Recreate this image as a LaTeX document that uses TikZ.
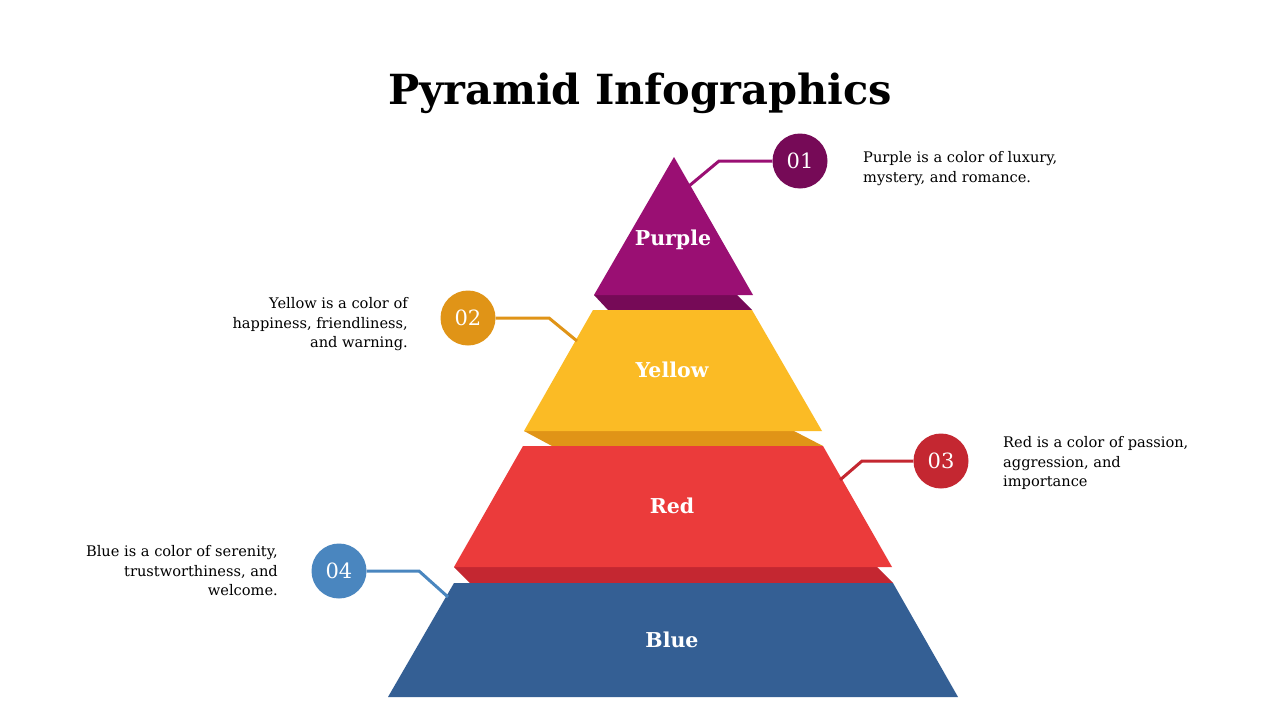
\documentclass[tikz,border=0pt]{standalone}
\usepackage{fontspec}
\setmainfont{DejaVu Serif}
\definecolor{purp}{HTML}{9A0F73}
\definecolor{purpd}{HTML}{760A57}
\definecolor{yel}{HTML}{FBBB25}
\definecolor{yeld}{HTML}{E09417}
\definecolor{rd}{HTML}{EB3B3B}
\definecolor{rdd}{HTML}{C42731}
\definecolor{blu}{HTML}{345F94}
\definecolor{blul}{HTML}{4A86BF}
\begin{document}
\begin{tikzpicture}[x=1pt,y=-1pt,
  numc/.style={circle, minimum size=55pt, inner sep=0pt, text=white, font=\fontsize{21}{21}\selectfont},
  desc/.style={font=\fontsize{14.6}{19.6}\selectfont, inner sep=0pt},
  layerlabel/.style={text=white, font=\bfseries\fontsize{20.5}{20.5}\selectfont},
  conn/.style={line width=3pt, line join=miter}]
\useasboundingbox[fill=white] (0,0) rectangle (1280,720);
% title
\node[font=\bfseries\fontsize{41.5}{41.5}\selectfont] (title) at (640,93) {Pyramid Infographics};
% pyramid layers
\fill[purpd] (594,295) -- (737,295) -- (752,310) -- (608,310) -- cycle;
\fill[purp] (674,157) -- (753,295) -- (594,295) -- cycle;
\fill[yeld] (524,431) -- (794,431) -- (823,446) -- (552,446) -- cycle;
\fill[yel] (593,310) -- (752,310) -- (822,431) -- (524,431) -- cycle;
\fill[rdd] (454,567) -- (877,567) -- (893,583) -- (470,583) -- cycle;
\fill[rd] (523,446) -- (823,446) -- (892,567) -- (454,567) -- cycle;
\fill[blu] (454,583) -- (893,583) -- (958,697) -- (388,697) -- cycle;
\node[layerlabel] (lp) at (673,240) {Purple};
\node[layerlabel] (ly) at (672,370) {Yellow};
\node[layerlabel] (lr) at (672,506) {Red};
\node[layerlabel] (lb) at (672,640) {Blue};
% number circles
\node[numc, fill=purpd] (c1) at (800,161) {01};
\node[numc, fill=yeld] (c2) at (468,318) {02};
\node[numc, fill=rdd] (c3) at (941,461) {03};
\node[numc, fill=blul] (c4) at (339,571) {04};
% connector anchor points on the pyramid
\coordinate (p1) at (689,186);
\coordinate (p2) at (577,341);
\coordinate (p3) at (840,480);
\coordinate (p4) at (448,597);
\draw[conn, purp] (p1) -- (719,161) -- (c1.west);
\draw[conn, yeld] (p2) -- (549,318) -- (c2.east);
\draw[conn, rdd] (p3) -- (862,461) -- (c3.west);
\draw[conn, blul] (p4) -- (419,571) -- (c4.east);
% descriptions
\node[desc, align=left, anchor=north west] (d1) at (863,151.5) {Purple is a color of luxury,\\mystery, and romance.};
\node[desc, align=right, anchor=north east] (d2) at (408,297.5) {Yellow is a color of\\happiness, friendliness,\\and warning.};
\node[desc, align=left, anchor=north west] (d3) at (1003,436.5) {Red is a color of passion,\\aggression, and\\importance};
\node[desc, align=right, anchor=north east] (d4) at (278,545.5) {Blue is a color of serenity,\\trustworthiness, and\\welcome.};
\end{tikzpicture}
\end{document}
